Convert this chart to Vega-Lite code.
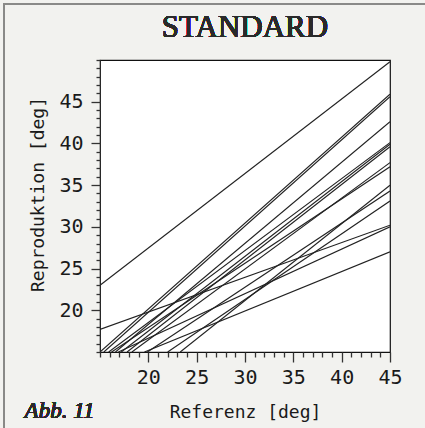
{
  "$schema": "https://vega.github.io/schema/vega-lite/v6.json",
  "width": 290,
  "height": 292,
  "autosize": {"type": "none"},
  "padding": {"left": 100, "top": 60, "right": 35, "bottom": 76},
  "background": "#f2f2ef",
  "config": {"view": {"stroke": "#111", "strokeWidth": 1.2, "fill": "white"}},
  "data": {"values": [
    {"id": "L1", "x": 15, "y": 23.0}, {"id": "L1", "x": 45, "y": 49.8},
    {"id": "L2", "x": 15, "y": 15}, {"id": "L2", "x": 45, "y": 45.9},
    {"id": "L3", "x": 15.4, "y": 15}, {"id": "L3", "x": 45, "y": 45.6},
    {"id": "L4", "x": 16.6, "y": 15}, {"id": "L4", "x": 45, "y": 42.6},
    {"id": "L5", "x": 15.9, "y": 15}, {"id": "L5", "x": 45, "y": 40.1},
    {"id": "L6", "x": 17.2, "y": 15}, {"id": "L6", "x": 45, "y": 39.9},
    {"id": "L7", "x": 17.8, "y": 15}, {"id": "L7", "x": 45, "y": 39.6},
    {"id": "L8", "x": 18.3, "y": 15}, {"id": "L8", "x": 45, "y": 37.7},
    {"id": "L9", "x": 16.2, "y": 15}, {"id": "L9", "x": 45, "y": 37.2},
    {"id": "L10", "x": 23.3, "y": 15}, {"id": "L10", "x": 45, "y": 35.0},
    {"id": "L11", "x": 19.9, "y": 15}, {"id": "L11", "x": 45, "y": 34.3},
    {"id": "L12", "x": 22.0, "y": 15}, {"id": "L12", "x": 45, "y": 33.1},
    {"id": "L13", "x": 15, "y": 17.7}, {"id": "L13", "x": 45, "y": 30.2},
    {"id": "L14", "x": 16.9, "y": 15}, {"id": "L14", "x": 45, "y": 30.0},
    {"id": "L15", "x": 19.6, "y": 15}, {"id": "L15", "x": 45, "y": 27.0}
  ]},
  "layer": [
    {
      "mark": {"type": "rect", "fill": null, "fillOpacity": 0, "stroke": "#8a8a88", "strokeWidth": 1.5, "clip": false},
      "encoding": {
        "x": {"datum": 5.05, "type": "quantitative"},
        "x2": {"datum": 49.5},
        "y": {"datum": 56.7, "type": "quantitative"},
        "y2": {"datum": 5.2}
      }
    },
    {
      "mark": {"type": "line", "stroke": "#222", "strokeWidth": 1.15, "clip": true},
      "encoding": {
        "x": {"field": "x", "type": "quantitative",
          "scale": {"domain": [15, 45], "nice": false, "zero": false},
          "axis": {
            "values": [15,16,17,18,19,20,21,22,23,24,25,26,27,28,29,30,31,32,33,34,35,36,37,38,39,40,41,42,43,44,45],
            "tickCount": 200, "format": "d",
            "tickSize": {"condition": {"test": "datum.value % 5 === 0 && datum.value >= 20", "value": 10}, "value": 5},
            "tickColor": "#333", "tickWidth": 1.3,
            "labelExpr": "datum.value % 5 === 0 && datum.value >= 20 ? datum.label : ''",
            "labelFont": "DejaVu Sans Mono", "labelFontSize": 20, "labelColor": "#1a1a1a",
            "labelPadding": 5, "labelFlush": false, "labelOverlap": false,
            "domain": false, "grid": false,
            "title": "Referenz [deg]", "titleFont": "DejaVu Sans Mono", "titleFontSize": 18,
            "titleFontWeight": "normal", "titleColor": "#1a1a1a",
            "titleBaseline": "alphabetic", "titleY": 65
          }},
        "y": {"field": "y", "type": "quantitative",
          "scale": {"domain": [15, 50], "nice": false, "zero": false},
          "axis": {
            "values": [15,16,17,18,19,20,21,22,23,24,25,26,27,28,29,30,31,32,33,34,35,36,37,38,39,40,41,42,43,44,45,46,47,48,49,50],
            "tickCount": 200, "format": "d",
            "tickSize": {"condition": {"test": "datum.value % 5 === 0 && datum.value >= 20 && datum.value <= 45", "value": 9}, "value": 4},
            "tickColor": "#333", "tickWidth": 1.3,
            "labelExpr": "datum.value % 5 === 0 && datum.value >= 20 && datum.value <= 45 ? datum.label : ''",
            "labelFont": "DejaVu Sans Mono", "labelFontSize": 20, "labelColor": "#1a1a1a",
            "labelPadding": 8, "labelFlush": false, "labelOverlap": false,
            "domain": false, "grid": false,
            "title": "Reproduktion [deg]", "titleFont": "DejaVu Sans Mono", "titleFontSize": 18,
            "titleFontWeight": "normal", "titleColor": "#1a1a1a",
            "titleBaseline": "alphabetic", "titleX": -57, "titleY": 134, "titleAlign": "center", "titleAngle": -90
          }},
        "detail": {"field": "id"}
      }
    },
    {
      "mark": {"type": "text", "text": "STANDARD", "font": "Times New Roman, Liberation Serif, serif", "fontWeight": 400, "fontSize": 31, "align": "center", "baseline": "alphabetic", "fill": "#2a2a2a", "clip": false},
      "encoding": {
        "x": {"datum": 30, "type": "quantitative"},
        "y": {"datum": 52.76, "type": "quantitative"}
      }
    },
    {
      "mark": {"type": "text", "text": "Abb. 11", "font": "Times New Roman, Liberation Serif, serif", "fontStyle": "italic", "fontWeight": 400, "fontSize": 23, "align": "left", "baseline": "alphabetic", "fill": "#2a2a2a", "clip": false},
      "encoding": {
        "x": {"datum": 7.2, "type": "quantitative"},
        "y": {"datum": 7.1, "type": "quantitative"}
      }
    }
  ]
}
